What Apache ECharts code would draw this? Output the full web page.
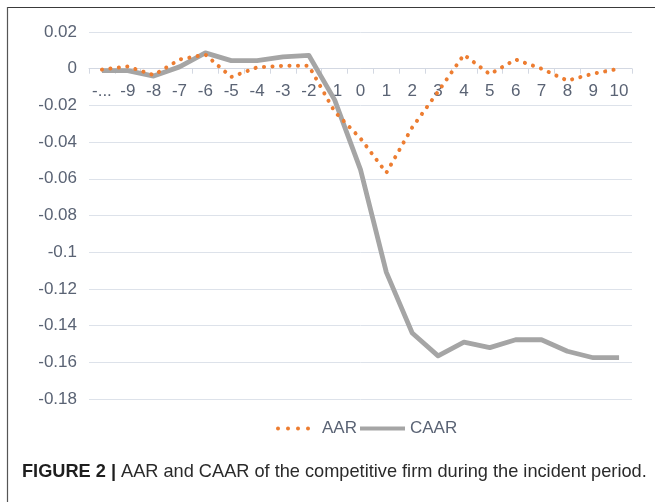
<!DOCTYPE html>
<html>
<head>
<meta charset="utf-8">
<script src="https://cdn.jsdelivr.net/npm/echarts@6/dist/echarts.min.js"></script>
<style>
html,body{margin:0;padding:0;background:#fff;}
#chart{width:655px;height:502px;}
</style>
</head>
<body>
<div id="chart"></div>
<script>
var categories = ["-...", "-9", "-8", "-7", "-6", "-5", "-4", "-3", "-2", "-1", "0", "1", "2", "3", "4", "5", "6", "7", "8", "9", "10"];
var aar = [-0.0005, 0.0012, -0.0035, 0.005, 0.0077, -0.0045, 0.0007, 0.0016, 0.0016, -0.0234, -0.038, -0.0567, -0.032, -0.0125, 0.0076, -0.003, 0.005, 0.0, -0.0065, -0.0027, 0.0];
var caar = [-0.001, -0.001, -0.004, 0.001, 0.0086, 0.0044, 0.0044, 0.0064, 0.0073, -0.017, -0.055, -0.111, -0.144, -0.1565, -0.149, -0.152, -0.1477, -0.1477, -0.154, -0.1575, -0.1575];
var yMin = -0.18, yMax = 0.02, yStep = 0.02;
var seriesNames = ["AAR", "CAAR"];
var captionBold = "FIGURE 2 |";
var captionText = "AAR and CAAR of the competitive firm during the incident period.";

var textColor = "#5a6374";
var font = "Liberation Sans, Arial, sans-serif";
var gridTop = 32, gridBottom = 103, chartH = 502;
var plotH = chartH - gridTop - gridBottom;
// move the category axis up to the zero line (axis-level offset)
var zeroOffset = -plotH * (0 - yMin) / (yMax - yMin);

var dotsIcon = "path://M0,2a2,2 0 1,0 4,0a2,2 0 1,0 -4,0z M10,2a2,2 0 1,0 4,0a2,2 0 1,0 -4,0z M20,2a2,2 0 1,0 4,0a2,2 0 1,0 -4,0z M30,2a2,2 0 1,0 4,0a2,2 0 1,0 -4,0z";

var chart = echarts.init(document.getElementById("chart"), null, {renderer: "canvas"});
chart.setOption({
  animation: false,
  backgroundColor: "#ffffff",
  textStyle: {fontFamily: font},
  grid: {left: 89, right: 23, top: gridTop, bottom: gridBottom, containLabel: false},
  title: {
    left: 17, top: 458,
    text: "{b|" + captionBold + "} {n|" + captionText + "}",
    textStyle: {
      fontWeight: "normal",
      rich: {
        b: {fontFamily: font, fontWeight: "bold", fontSize: 18.2, color: "#1e1e1e"},
        n: {fontFamily: font, fontWeight: "normal", fontSize: 18.2, color: "#2a2a2a"}
      }
    }
  },
  legend: [
    {
      left: 271, top: 415,
      itemWidth: 34, itemHeight: 4,
      textStyle: {color: textColor, fontSize: 17, fontFamily: font, padding: [0, 0, 0, 7]},
      data: [{name: seriesNames[0], icon: dotsIcon}]
    },
    {
      left: 355, top: 415,
      itemWidth: 45, itemHeight: 4,
      textStyle: {color: textColor, fontSize: 17, fontFamily: font},
      data: [{name: seriesNames[1], icon: "rect"}]
    }
  ],
  xAxis: {
    type: "category",
    data: categories,
    boundaryGap: true,
    offset: zeroOffset,
    axisLine: {onZero: false, lineStyle: {color: "#d3d8e2", width: 1}},
    axisTick: {show: true, length: 5, lineStyle: {color: "#d3d8e2"}},
    axisLabel: {color: textColor, fontSize: 17, margin: 14, interval: 0},
    splitLine: {show: false}
  },
  yAxis: {
    type: "value",
    min: yMin, max: yMax, interval: yStep,
    axisLine: {show: false},
    axisTick: {show: false},
    axisLabel: {color: textColor, fontSize: 17, margin: 12,
      formatter: function (v) { return String(Math.round(v * 100) / 100); }},
    splitLine: {lineStyle: {color: "#dde2ea", width: 1}}
  },
  series: [
    {
      name: seriesNames[0], type: "line", data: aar, symbol: "none", z: 3,
      itemStyle: {color: "#ed7d31"},
      lineStyle: {color: "#ed7d31", width: 4, type: [0.1, 8.4], cap: "round", join: "round"}
    },
    {
      name: seriesNames[1], type: "line", data: caar, symbol: "none", z: 2,
      itemStyle: {color: "#a5a5a5"},
      lineStyle: {color: "#a5a5a5", width: 4.8, join: "round"}
    }
  ],
  graphic: [
    {type: "line", shape: {x1: 7, y1: 7.5, x2: 655, y2: 7.5}, style: {stroke: "#3a3a3a", lineWidth: 1.2}},
    {type: "line", shape: {x1: 7.5, y1: 7, x2: 7.5, y2: 502}, style: {stroke: "#555", lineWidth: 1.2}}
  ]
});
</script>
</body>
</html>
